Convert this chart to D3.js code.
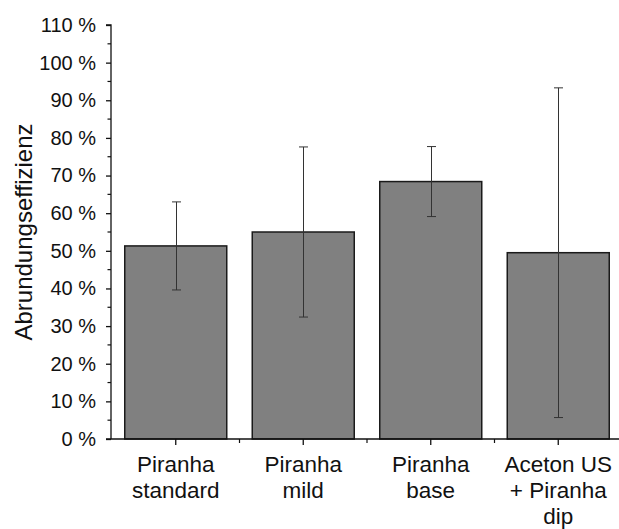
<!DOCTYPE html>
<html>
<head>
<meta charset="utf-8">
<script src="https://cdn.jsdelivr.net/npm/d3@7"></script>
<style>
  html, body { margin: 0; padding: 0; background: #fff; }
  svg { display: block; }
  text { font-family: "Liberation Sans", Arial, sans-serif; fill: #111; }
</style>
</head>
<body>
<svg id="chart" width="619" height="529"></svg>
<script>
// Data
const categories = [["Piranha", "standard"], ["Piranha", "mild"], ["Piranha", "base"], ["Aceton US", "+ Piranha", "dip"]];
const values = [51.3, 55.0, 68.4, 49.5];
const errors = [11.7, 22.6, 9.3, 43.8];
const yTicks = [0, 10, 20, 30, 40, 50, 60, 70, 80, 90, 100, 110];
const yLabel = "Abrundungseffizienz";

(function () {
const svg = d3.select("#chart");
const mLeft = 111, mTop = 25, mBottom = 439, mRight = 622;

const ids = categories.map((c, i) => i);
const x = d3.scaleBand().domain(ids).range([mLeft + 1, mRight]).paddingInner(0.2).paddingOuter(0.1);
const y = d3.scaleLinear().domain([0, 110]).range([mBottom, mTop]);

// Bars
svg.append("g").selectAll("rect").data(values).join("rect")
  .attr("x", (d, i) => x(i))
  .attr("y", d => y(d))
  .attr("width", x.bandwidth())
  .attr("height", d => y(0) - y(d))
  .attr("fill", "#808080")
  .attr("stroke", "#1a1a1a")
  .attr("stroke-width", 1.5);

// Error bars
const eg = svg.append("g").attr("stroke", "#333").attr("stroke-width", 1).attr("fill", "none");
values.forEach((v, i) => {
  const cx = Math.round(x(i) + x.bandwidth() / 2) + 0.5;
  const y1 = y(v + errors[i]), y2 = y(v - errors[i]);
  eg.append("line").attr("x1", cx).attr("x2", cx).attr("y1", y1).attr("y2", y2);
  eg.append("line").attr("x1", cx - 4.5).attr("x2", cx + 4.5).attr("y1", y1).attr("y2", y1);
  eg.append("line").attr("x1", cx - 4.5).attr("x2", cx + 4.5).attr("y1", y2).attr("y2", y2);
});

// Y axis
const yAxis = d3.axisLeft(y).tickValues(yTicks).tickSize(5).tickPadding(10)
  .tickFormat(d => d + " %");
const yg = svg.append("g").attr("transform", `translate(${mLeft},0)`).call(yAxis);
yg.select(".domain").attr("stroke", "#111").attr("stroke-width", 1.3).attr("d", `M-5,${mTop}H0V${mBottom}`);
yg.selectAll(".tick line").attr("stroke", "#111").attr("stroke-width", 1.3);
yg.selectAll(".tick text").style("font-size", "20px").attr("fill", "#111");
// minor y ticks
const minorY = yTicks.slice(0, -1).map(d => d + 5);
yg.append("g").selectAll("line").data(minorY).join("line")
  .attr("x1", -3.5).attr("x2", 0).attr("y1", d => y(d)).attr("y2", d => y(d))
  .attr("stroke", "#111").attr("stroke-width", 1.2);

// X axis
const xg = svg.append("g").attr("transform", `translate(0,${mBottom})`);
xg.append("line").attr("x1", mLeft - 5).attr("x2", 619).attr("y1", 0).attr("y2", 0)
  .attr("stroke", "#111").attr("stroke-width", 1.3);
const xAxis = d3.axisBottom(x).tickSize(6).tickFormat("");
const xa = svg.append("g").attr("transform", `translate(0,${mBottom})`).call(xAxis);
xa.select(".domain").remove();
xa.selectAll(".tick line").attr("stroke", "#111").attr("stroke-width", 1.3);
// minor x ticks at band boundaries
const bounds = ids.slice(1).map(i => x(i) - x.step() * x.paddingInner() / 2);
xg.append("g").selectAll("line").data(bounds).join("line")
  .attr("x1", d => d).attr("x2", d => d).attr("y1", 0).attr("y2", 4)
  .attr("stroke", "#111").attr("stroke-width", 1.2);

// Category labels
categories.forEach((lines, i) => {
  const cx = x(i) + x.bandwidth() / 2;
  const t = svg.append("text").attr("text-anchor", "middle").style("font-size", "22.5px");
  lines.forEach((ln, j) => {
    t.append("tspan").attr("x", cx).attr("y", mBottom + 33 + j * 26).text(ln);
  });
});

// Y label
svg.append("text")
  .attr("transform", `translate(32,${(mTop + mBottom) / 2}) rotate(-90)`)
  .attr("text-anchor", "middle")
  .style("font-size", "24px")
  .text(yLabel);
})();
</script>
</body>
</html>
